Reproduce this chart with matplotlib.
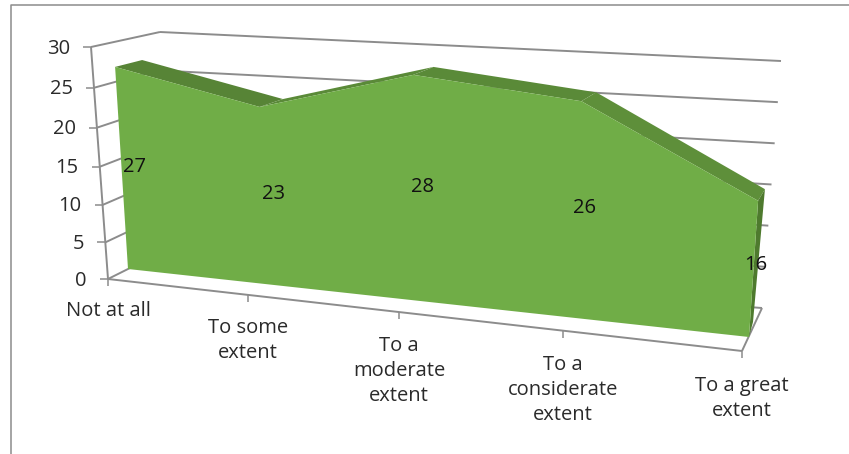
import numpy as np
import matplotlib
matplotlib.use('Agg')
import matplotlib.pyplot as plt

# chart data
categories = ['Not at all', 'To some\nextent', 'To a\nmoderate\nextent', 'To a\nconsiderate\nextent', 'To a great\nextent']
values = [27, 23, 28, 26, 16]
y_ticks = [0, 5, 10, 15, 20, 25, 30]

LINE = '#8c8c8c'
FACE = '#70ad47'
TOP_FACE = ['#578436', '#5a8a38', '#5a8a38', '#5e8f3a']
SIDE_FACE = '#4e7a2e'
TEXT = '#2a2a2a'


def plane(corners):
    """Homography from (category index, value) to image pixels.
    corners: pixel positions of (0,0), (0,30), (4,0), (4,30)"""
    src = [(0, 0), (0, 30), (4, 0), (4, 30)]
    A, b = [], []
    for (x, y), (u, v) in zip(src, corners):
        A.append([x, y, 1, 0, 0, 0, -u*x, -u*y])
        A.append([0, 0, 0, x, y, 1, -v*x, -v*y])
        b += [u, v]
    h = np.append(np.linalg.solve(np.array(A, float), np.array(b, float)), 1).reshape(3, 3)

    def project(cat, val):
        p = h @ np.array([cat, val, 1.0])
        return p[0]/p[2], p[1]/p[2]
    return project


# the box and area planes of the 3d view
axis_plane = plane([(108, 279), (91, 47), (742, 351), (772, 80)])
wall_plane = plane([(142, 262), (160, 32), (762, 308), (781, 61)])
area_front = plane([(128, 269), (113.6, 43.4), (749, 337), (766.5, 75)])
area_back = plane([(152, 259), (141, 36.8), (753, 322), (776, 66)])

fig = plt.figure(figsize=(8.49, 4.54), dpi=100)
ax = fig.add_axes([0, 0, 1, 1])
ax.set_xlim(0, 849)
ax.set_ylim(454, 0)
ax.axis('off')
plt.rcParams['font.family'] = ['Open Sans', 'DejaVu Sans']

# outer frame
ax.plot([11.5, 11.5, 849], [454, 4.5, 4.5], color=LINE, lw=1.1)


def seg(p, q, lw=1.4, color=LINE):
    ax.plot([p[0], q[0]], [p[1], q[1]], color=color, lw=lw, solid_capstyle='butt', zorder=1)


# gridlines on the walls, y ticks and y labels
for v in y_ticks:
    front = axis_plane(0, v)
    back = wall_plane(0, v)
    seg(front, back)
    seg(back, wall_plane(4, v))
    seg((front[0]-8, front[1]), front, lw=1.1)
    ax.text(front[0]-21, front[1]+1.5, str(v), ha='right', va='center', fontsize=14.5, color=TEXT)

# y axis, floor edges
seg(axis_plane(0, 0), axis_plane(0, 30))
seg(axis_plane(0, 0), axis_plane(4, 0))
seg(axis_plane(4, 0), wall_plane(4, 0))

# x ticks and labels
for i, name in enumerate(categories):
    x, y = axis_plane(i, 0)
    seg((x, y), (x, y+7), lw=1.1)
    ax.text(x, y+22.5+i*0.5, name, ha='center', va='top', fontsize=14.5, color=TEXT, linespacing=1.35)

# the area: top faces, right side, front
n = len(values)
front_top = [area_front(i, values[i]) for i in range(n)]
back_top = [area_back(i, values[i]) for i in range(n)]
for i in range(n-1):
    quad = [front_top[i], back_top[i], back_top[i+1], front_top[i+1]]
    ax.fill(*zip(*quad), color=TOP_FACE[i], lw=0, zorder=3)
side = [front_top[-1], back_top[-1], area_back(n-1, 0), area_front(n-1, 0)]
ax.fill(*zip(*side), color=SIDE_FACE, lw=0, zorder=3)
outline = [area_front(0, 0)] + front_top + [area_front(n-1, 0)]
ax.fill(*zip(*outline), color=FACE, lw=0, zorder=4)

# value labels sit halfway up, mid depth
for i, v in enumerate(values):
    a = area_front(i, v/2)
    b = area_back(i, v/2)
    ax.text((a[0]+b[0])/2, (a[1]+b[1])/2+1.5, str(v), ha='center', va='center', fontsize=14.5, color='#111111', zorder=5)

fig.savefig('out.png', dpi=100)
